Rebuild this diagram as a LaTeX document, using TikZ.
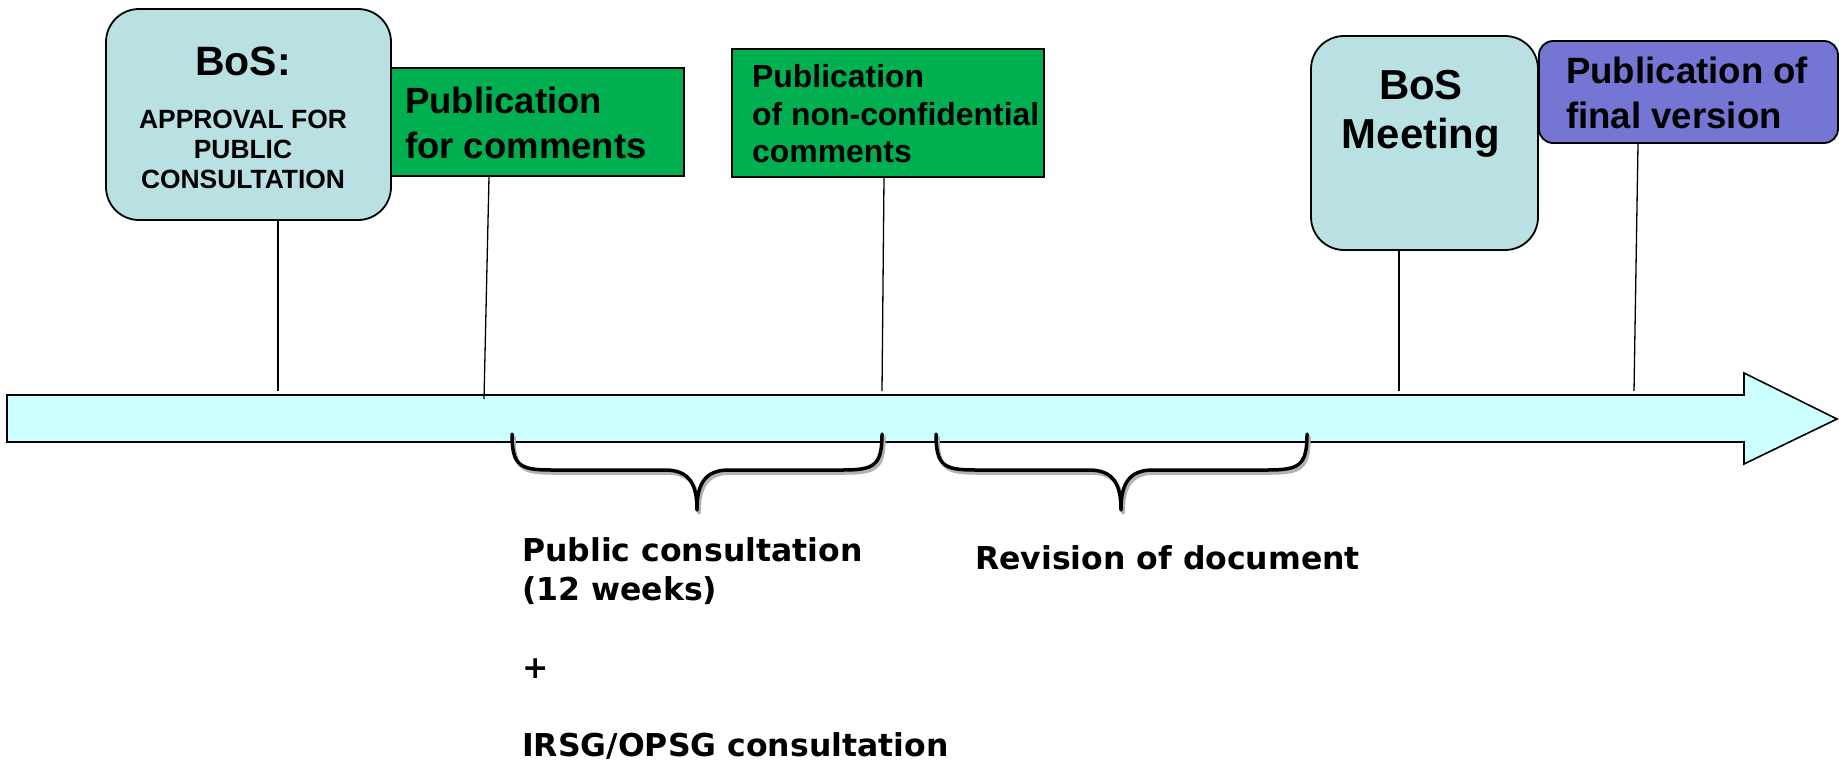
\documentclass[tikz,border=0pt]{standalone}
\usepackage{fontspec}
\setmainfont{Liberation Sans}
\newfontfamily\verdfont{DejaVu Sans}
\usetikzlibrary{calc}
\definecolor{bosfill}{RGB}{185,224,227}
\definecolor{pubgreen}{RGB}{0,176,80}
\definecolor{pubpurple}{RGB}{117,117,211}
\definecolor{arrowfill}{RGB}{204,255,255}
\begin{document}
\begin{tikzpicture}[x=1pt,y=-1pt,
 box/.style={draw=black, line width=1.8pt, inner sep=0pt},
 bosbox/.style={box, fill=bosfill, rounded corners=33pt},
 greenbox/.style={box, fill=pubgreen},
 purplebox/.style={box, fill=pubpurple, rounded corners=14pt},
 tick/.style={draw=black, line width=1.3pt},
 brace/.style={draw=black, line width=3.5pt, line cap=round, line join=round},
 braceshadow/.style={draw=black!30, line width=3.5pt, line cap=round, line join=round},
 txt/.style={inner sep=0pt, text=black},
 boxtxt/.style={txt, font=\bfseries},
 lowtxt/.style={txt, font=\verdfont\bfseries\fontsize{31.5}{39}\selectfont},
]
\useasboundingbox (0,0) rectangle (1839,763);

% timeline arrow
\draw[fill=arrowfill, line width=1.6pt, line join=miter]
  (7,395) -- (1744,395) -- (1744,373) -- (1837,419) -- (1744,464) -- (1744,442) -- (7,442) -- cycle;

% boxes
\node[greenbox, minimum width=297pt, minimum height=108pt] (g1) at (535.5,122) {};
\node[bosbox, minimum width=285pt, minimum height=211pt] (bos) at (248.5,114.5) {};
\node[greenbox, minimum width=312pt, minimum height=128pt] (g2) at (888,113) {};
\node[bosbox, minimum width=227pt, minimum height=214pt] (meet) at (1424.5,143) {};
\node[purplebox, minimum width=299pt, minimum height=102pt] (pub) at (1688.5,92) {};

% box texts
\node[boxtxt, font=\bfseries\fontsize{41}{49}\selectfont] (bosT) at (243,61) {BoS:};
\node[boxtxt, align=center, font=\bfseries\fontsize{26.4}{30}\selectfont] (bosS) at (243,149) {APPROVAL FOR\\PUBLIC\\CONSULTATION};
\node[boxtxt, anchor=west, align=left, font=\bfseries\fontsize{36.5}{44.4}\selectfont] (g1T) at (405,123) {Publication\\for comments};
\node[boxtxt, anchor=west, align=left, font=\bfseries\fontsize{31.9}{37.5}\selectfont] (g2T) at (752,114) {Publication\\of non-confidential\\comments};
\node[boxtxt, align=center, font=\bfseries\fontsize{41.9}{49}\selectfont] (meetT) at (1421,113.5) {BoS\\Meeting};
\node[boxtxt, anchor=west, align=left, font=\bfseries\fontsize{36.6}{45}\selectfont] (pubT) at (1566,92.5) {Publication of\\final version};

% tick lines
\coordinate (b1) at (278,391);
\coordinate (b2) at (484,399);
\coordinate (b3) at (882,391);
\coordinate (b4) at (1399,391);
\coordinate (b5) at (1634,391);
\draw[tick] (bos.south -| b1) -- (b1);
\draw[tick] ($(g1.south)+(-46.5,0)$) -- (b2);
\draw[tick] ($(g2.south)+(-4,0)$) -- (b3);
\draw[tick] (meet.south -| b4) -- (b4);
\draw[tick] ($(pub.south)+(-50.5,0)$) -- (b5);

% braces (shadow, then brace)
\begin{scope}[shift={(2,3)}]
\draw[braceshadow] (512,434) .. controls (512,466) and (520,470) .. (552,470) -- (665,470) .. controls (690,470) and (697,485) .. (697,510) .. controls (697,485) and (704,470) .. (729,470) -- (842,470) .. controls (874,470) and (882,466) .. (882,434);
\draw[braceshadow] (936,434) .. controls (936,466) and (944,470) .. (976,470) -- (1089,470) .. controls (1114,470) and (1121,485) .. (1121,510) .. controls (1121,485) and (1128,470) .. (1153,470) -- (1267,470) .. controls (1299,470) and (1307,466) .. (1307,434);
\end{scope}
\draw[brace] (512,434) .. controls (512,466) and (520,470) .. (552,470) -- (665,470) .. controls (690,470) and (697,485) .. (697,510) .. controls (697,485) and (704,470) .. (729,470) -- (842,470) .. controls (874,470) and (882,466) .. (882,434);
\draw[brace] (936,434) .. controls (936,466) and (944,470) .. (976,470) -- (1089,470) .. controls (1114,470) and (1121,485) .. (1121,510) .. controls (1121,485) and (1128,470) .. (1153,470) -- (1267,470) .. controls (1299,470) and (1307,466) .. (1307,434);

% lower texts
\node[lowtxt, anchor=west, align=left] (pcT) at (522,648.5) {Public consultation\\(12 weeks)\\[39pt]+\\[39pt]IRSG/OPSG consultation};
\node[lowtxt, anchor=west] (revT) at (975,558) {Revision of document};
\end{tikzpicture}
\end{document}
